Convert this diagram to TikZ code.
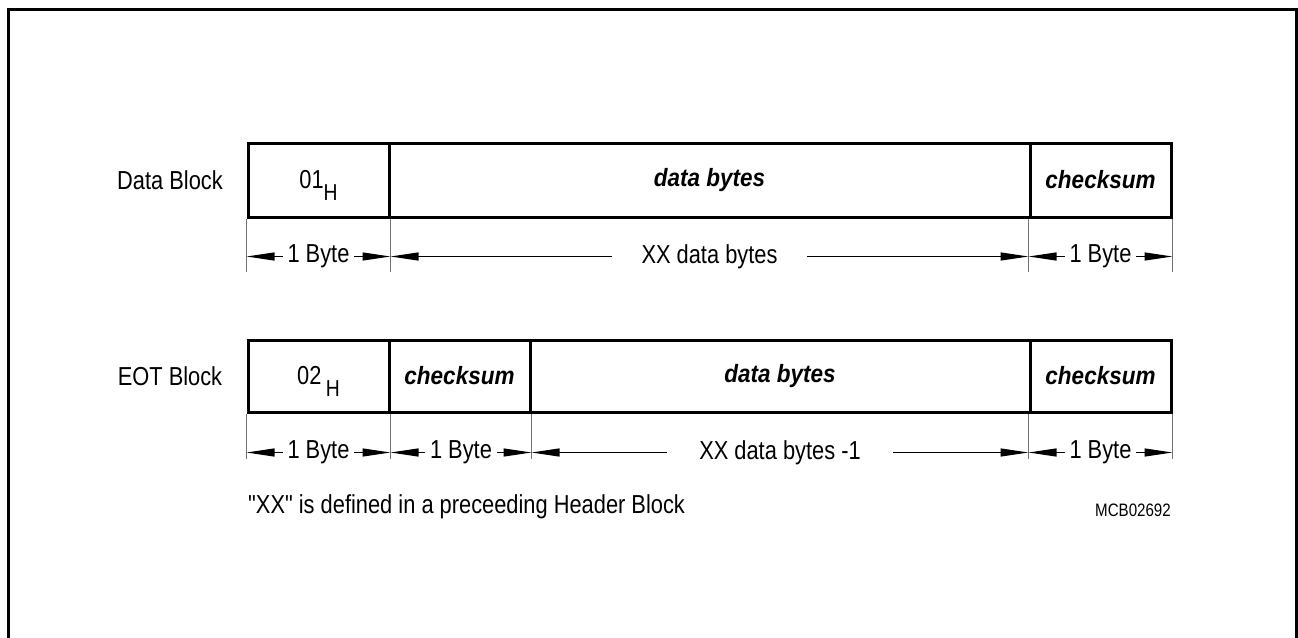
\documentclass[tikz,border=0pt]{standalone}
\usepackage{fontspec}
\setmainfont{Liberation Sans}[FakeStretch=0.84, Ligatures=TeXOff]
\newfontfamily\fieldfont{Liberation Sans}[FakeStretch=0.9]
\usetikzlibrary{arrows.meta, calc, positioning}
\tikzset{
  >={Triangle[length=28pt,width=8pt]},  % frecce di quota
  % Campi dei blocchi
  field/.style={draw, line width=3pt, inner sep=0pt, font=\fontsize{26}{30}\selectfont},
  field name/.style={field, font=\fontsize{25}{30}\selectfont\fieldfont\bfseries\itshape},
  % Quote
  ext line/.style={line width=1.2pt, black!55},
  dim line/.style={<->, line width=1.2pt},
  dim text/.style={fill=white, inner ysep=2pt, inner xsep=5pt, font=\fontsize{26}{30}\selectfont},
  block label/.style={font=\fontsize{26}{30}\selectfont}
}

\begin{document}
\begin{tikzpicture}[x=1pt, y=-1pt]
\useasboundingbox (0,0) rectangle (1298,637);

% Cornice
\draw[line width=3pt] (8,640) -- (8,9) -- (1296,9) -- (1296,640);

% Data Block
\begin{scope}
\node[block label] (dlab) at (170,180) {Data Block};
\node[field, minimum width=141pt, minimum height=74pt] (d1) at (318.5,180) {01\smash{\raisebox{-12pt}{\fontsize{23}{26}\selectfont H}}};
\node[field name, minimum width=641pt, minimum height=74pt] (d2) at (709.5,180) {data bytes};
\node[field name, minimum width=141pt, minimum height=74pt] (d3) at (1100.5,180) {checksum};
\foreach \p in {d1.south west, d1.south east, d3.south west, d3.south east}
  \draw[ext line] (\p) -- ++(0,53);
\path (d1.south west) ++(0,38) coordinate (da)
      (d1.south east) ++(0,38) coordinate (db)
      (d3.south west) ++(0,38) coordinate (dc)
      (d3.south east) ++(0,38) coordinate (dd);
\draw[dim line] (da) -- (db) node[midway, dim text] {1 Byte};
\draw[dim line] (db) -- (dc) node[midway, dim text, inner xsep=30pt] {XX data bytes};
\draw[dim line] (dc) -- (dd) node[midway, dim text] {1 Byte};
\end{scope}

% EOT Block
\begin{scope}
\node[block label] (elab) at (170,376) {EOT Block};
\node[field, minimum width=141pt, minimum height=72pt] (e1) at (318.5,376) {02\,\smash{\raisebox{-12pt}{\fontsize{23}{26}\selectfont H}}};
\node[field name, minimum width=141pt, minimum height=72pt] (e2) at (459.5,376) {checksum};
\node[field name, minimum width=500pt, minimum height=72pt] (e3) at (780,376) {data bytes};
\node[field name, minimum width=141pt, minimum height=72pt] (e4) at (1100.5,376) {checksum};
\foreach \p in {e1.south west, e1.south east, e2.south east, e4.south west, e4.south east}
  \draw[ext line] (\p) -- ++(0,45);
\path (e1.south west) ++(0,39) coordinate (ea)
      (e1.south east) ++(0,39) coordinate (eb)
      (e2.south east) ++(0,39) coordinate (ec)
      (e4.south west) ++(0,39) coordinate (ed)
      (e4.south east) ++(0,39) coordinate (ee);
\draw[dim line] (ea) -- (eb) node[midway, dim text] {1 Byte};
\draw[dim line] (eb) -- (ec) node[midway, dim text] {1 Byte};
\draw[dim line] (ec) -- (ed) node[midway, dim text, inner xsep=32pt] {XX data bytes -1};
\draw[dim line] (ed) -- (ee) node[midway, dim text] {1 Byte};
\end{scope}

% Note
\node[block label, anchor=west, inner sep=0pt] (note) at (248,507) {"XX" is defined in a preceeding Header Block};
\node[anchor=east, inner sep=0pt, font=\fontsize{18}{20}\selectfont] (code) at (1171,510) {MCB02692};

\end{tikzpicture}
\end{document}
